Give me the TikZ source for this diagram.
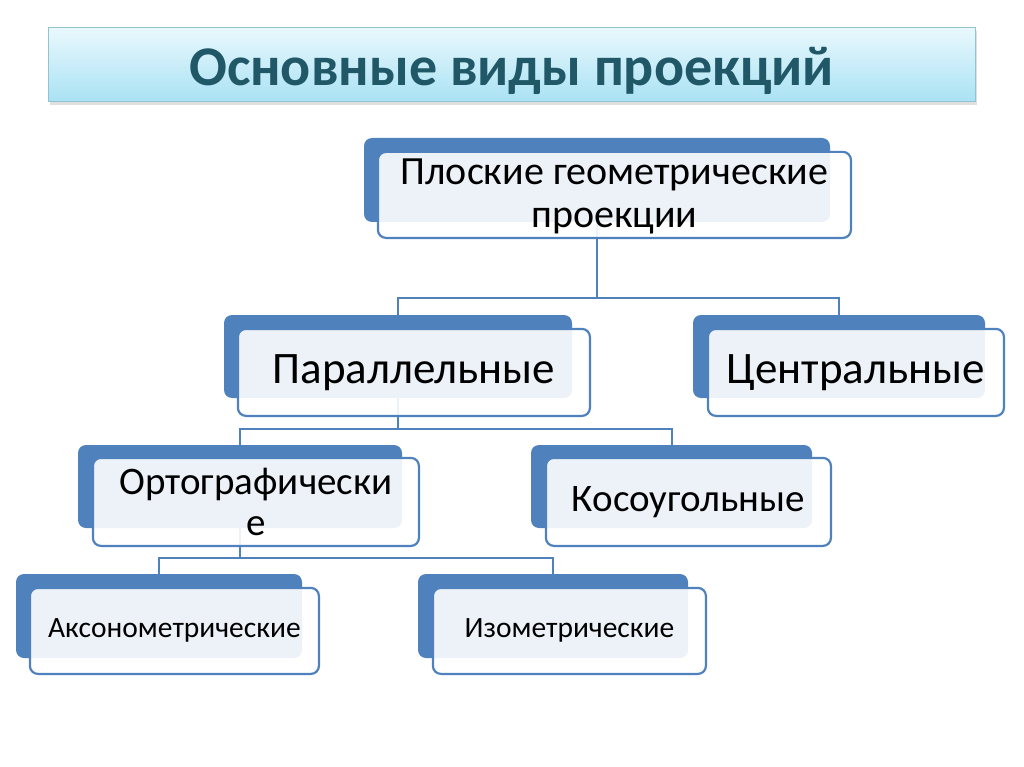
\documentclass[tikz,border=0pt]{standalone}
\usepackage{fontspec}
\setmainfont{Carlito}
\usetikzlibrary{shadows}
\definecolor{boxblue}{HTML}{4F81BD}
\definecolor{titleink}{HTML}{215868}
\definecolor{titletop}{HTML}{E9F8FD}
\definecolor{titlebot}{HTML}{A9E2F4}
\definecolor{titleedge}{HTML}{93C3CE}

\begin{document}
\begin{tikzpicture}[x=1pt,y=-1pt,
            titlebox/.style={draw=titleedge, line width=1pt, top color=titletop, bottom color=titlebot,
                drop shadow={shadow xshift=2pt, shadow yshift=-3pt, opacity=0.25}, inner sep=0pt,
                text=titleink, font=\fontsize{56}{66}\selectfont\bfseries},
            back/.style={fill=boxblue, rounded corners=8pt, inner sep=0pt},
            front/.style={draw=boxblue, line width=2.2pt, rounded corners=8pt, fill=white, fill opacity=0.9,
                text opacity=1, text=black, align=center, inner sep=0pt, anchor=north west},
            link/.style={draw=boxblue, line width=2pt}]
        \useasboundingbox (0,0) rectangle (1024,767);

        \node[titlebox, minimum width=927pt, minimum height=74pt, text height=42pt, text depth=0pt]
            (title) at (511.5,65) {Основные виды проекций};

        % back plates
        \node[back, minimum width=466pt, minimum height=84pt] (plosk-b) at (597,180) {};
        \node[back, minimum width=348pt, minimum height=83pt] (par-b) at (398,356.5) {};
        \node[back, minimum width=292pt, minimum height=83pt] (centr-b) at (839,356.5) {};
        \node[back, minimum width=324pt, minimum height=83pt] (orto-b) at (240,486.5) {};
        \node[back, minimum width=281pt, minimum height=83pt] (kos-b) at (671.5,486.5) {};
        \node[back, minimum width=286pt, minimum height=84pt] (akso-b) at (159,616) {};
        \node[back, minimum width=270pt, minimum height=84pt] (izo-b) at (553,616) {};

        % links
        \coordinate (bus1) at (597,298);
        \coordinate (bus2) at (398,429);
        \coordinate (bus3) at (240,558);
        \draw[link] (plosk-b.south) -- (bus1) -| (par-b.north);
        \draw[link] (bus1) -| (centr-b.north);
        \draw[link] (par-b.south) -- (bus2) -| (orto-b.north);
        \draw[link] (bus2) -| (kos-b.north);
        \draw[link] (orto-b.south) -- (bus3) -| (akso-b.north);
        \draw[link] (bus3) -| (izo-b.north);

        % front boxes
        \node[front, minimum width=473pt, minimum height=86pt, font=\fontsize{40}{43}\selectfont, text depth=4pt]
            (plosk) at ([shift={(13pt,-13pt)}]plosk-b.north west) {Плоские геометрические\\проекции};
        \node[front, minimum width=352pt, minimum height=87pt, font=\fontsize{45}{54}\selectfont]
            (par) at ([shift={(13pt,-13pt)}]par-b.north west) {Параллельные};
        \node[front, minimum width=296pt, minimum height=87pt, font=\fontsize{45}{54}\selectfont]
            (centr) at ([shift={(14pt,-13pt)}]centr-b.north west) {Центральные};
        \node[front, minimum width=326pt, minimum height=88pt, font=\fontsize{39}{41}\selectfont]
            (orto) at ([shift={(14pt,-12pt)}]orto-b.north west) {Ортографически\\е};
        \node[front, minimum width=285pt, minimum height=88pt, font=\fontsize{39}{46}\selectfont]
            (kos) at ([shift={(14pt,-12pt)}]kos-b.north west) {Косоугольные};
        \node[front, minimum width=289pt, minimum height=86pt, font=\fontsize{29.5}{35}\selectfont]
            (akso) at ([shift={(13pt,-13pt)}]akso-b.north west) {Аксонометрические};
        \node[front, minimum width=273pt, minimum height=86pt, font=\fontsize{29.5}{35}\selectfont]
            (izo) at ([shift={(14pt,-13pt)}]izo-b.north west) {Изометрические};
    \end{tikzpicture}
\end{document}
